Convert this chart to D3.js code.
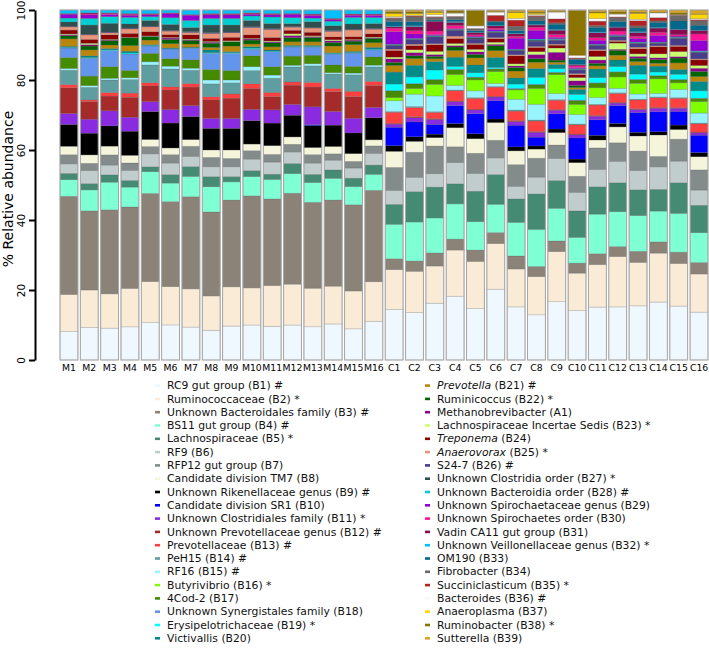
<!DOCTYPE html>
<html><head><meta charset="utf-8">
<script src="https://cdn.jsdelivr.net/npm/d3@7"></script>
<style>
body{margin:0;background:#fff;}
svg{display:block;font-family:"DejaVu Sans",sans-serif;}
</style></head>
<body><svg id="chart" width="709" height="649"></svg>
<script>
// ---------- data ----------
const samples = ["M1","M2","M3","M4","M5","M6","M7","M8","M9","M10","M11","M12","M13","M14","M15","M16",
                 "C1","C2","C3","C4","C5","C6","C7","C8","C9","C10","C11","C12","C13","C14","C15","C16"];

const taxa = [
 "RC9 gut group (B1) #","Ruminococcaceae (B2) *","Unknown Bacteroidales family (B3) #","BS11 gut group (B4) #",
 "Lachnospiraceae (B5) *","RF9 (B6)","RFP12 gut group (B7)","Candidate division TM7 (B8)",
 "Unknown Rikenellaceae genus (B9)  #","Candidate division SR1 (B10)","Unknown Clostridiales family (B11) *",
 "Unknown Prevotellaceae genus (B12) #","Prevotellaceae (B13) #","PeH15 (B14) #","RF16 (B15) #",
 "Butyrivibrio (B16) *","4Cod-2 (B17)","Unknown Synergistales family (B18)","Erysipelotrichaceae (B19) *",
 "Victivallis (B20)",
 "Prevotella (B21) #","Ruminicoccus (B22) *","Methanobrevibacter (A1)","Lachnospiraceae Incertae Sedis (B23) *",
 "Treponema (B24)","Anaerovorax (B25) *","S24-7 (B26) #","Unknown Clostridia order (B27) *",
 "Unknown Bacteroidia order (B28) #","Unknown Spirochaetaceae genus (B29)","Unknown Spirochaetes order (B30)",
 "Vadin CA11 gut group (B31)","Unknown Veillonellaceae genus (B32) *","OM190 (B33)","Fibrobacter (B34)",
 "Succiniclasticum (B35) *","Bacteroides (B36) #","Anaeroplasma (B37)","Ruminobacter (B38) *","Sutterella (B39)"];

const italicNames = ["Prevotella","Treponema","Anaerovorax"];

const taxaColors = [
 "#F0F8FF","#FAEBD7","#8B8378","#7FFFD4","#458B74","#C1CDCD","#838B8B","#F5F5DC","#000000","#0000FF",
 "#8A2BE2","#A52A2A","#FF4040","#5F9EA0","#98F5FF","#7FFF00","#458B00","#6495ED","#00FFFF","#008B8B",
 "#B8860B","#006400","#8B008B","#CAFF70","#8B0000","#E9967A","#483D8B","#2F4F4F","#00CED1","#9400D3",
 "#FF1493","#8B0A50","#00BFFF","#00688B","#696969","#B22222","#F8F8FF","#FFD700","#8B7500","#DAA520"];

const yTicks = [0,20,40,60,80,100];

// % relative abundance, one row per sample (same order as samples), columns in taxa order
const abundance = [
 [8.1,10.5,27.9,4.7,1.8,2.7,2.6,2.4,6.2,0,3.1,7.3,0.9,4.1,0.5,0,3.1,2.7,0.2,0.3,2.1,0.9,0.3,0.2,1.1,0.9,0.2,1.2,1.1,1.1,0.1,0.1,1.0,0,0,0,0,0,0,0],
 [9.3,10.7,22.6,6.0,1.8,3.7,2.1,2.4,6.2,0,4.0,5.0,0.5,3.6,0.5,0,2.7,5.1,0.2,0.5,1.7,1.1,0.4,0.4,1.1,1.3,0.2,2.6,1.9,1.0,0.3,0.3,0.8,0,0,0,0,0,0,0],
 [9.1,9.8,24.0,7.9,2.1,2.8,2.9,2.5,5.8,0,4.3,4.2,1.0,3.6,0.5,0,3.3,4.6,0.2,0.4,1.0,1.2,0.2,0.2,1.3,0.6,0.2,2.5,1.9,0.6,0.3,0.2,0.8,0,0,0,0,0,0,0],
 [9.5,11.0,23.3,5.7,1.9,2.9,2.1,2.2,6.9,0,4.0,5.7,1.2,3.9,0.5,0,2.1,4.7,0.3,0.5,1.6,2.2,0.1,0.1,1.1,1.3,0.2,1.2,1.9,0.6,0.3,0.2,1.0,0,0,0,0,0,0,0],
 [10.7,11.7,25.2,6.2,1.4,3.7,2.1,2.0,8.0,0,2.8,4.5,0.9,5.1,0.9,0,2.4,2.1,0.2,0.2,1.3,1.0,0.1,0.1,1.2,1.4,0.2,1.6,1.1,0.5,0.2,0.2,1.0,0,0,0,0,0,0,0],
 [10.0,10.9,24.2,5.3,2.4,3.3,2.4,1.9,7.1,0,3.8,5.6,0.9,5.1,0.8,0,2.1,2.8,0.1,0.2,1.2,1.2,0.4,0.2,0.8,1.0,0.2,1.7,1.9,1.1,0.2,0.1,0.8,0,0,0,0,0,0,0],
 [9.4,10.9,26.3,5.8,2.8,2.9,2.9,1.9,6.6,0,3.1,5.3,1.0,3.8,0.6,0,2.4,3.3,0.1,0.2,0.9,1.0,0.2,0.2,1.2,0.7,0.2,1.2,2.0,1.5,0.1,0.1,1.3,0,0,0,0,0,0,0],
 [8.5,9.8,24.0,7.2,2.9,2.8,2.7,2.1,6.2,0,2.8,5.3,0.9,3.7,1.1,0,3.0,4.6,0.2,0.8,0.7,1.2,0.3,0.2,0.9,1.4,0.2,2.2,1.9,1.0,0.2,0.2,1.0,0,0,0,0,0,0,0],
 [9.7,11.2,24.8,5.2,1.5,2.8,2.4,2.4,6.2,0,2.8,5.8,1.2,3.2,0.8,0,2.7,4.9,0.2,0.3,1.6,1.2,0.1,0.2,1.0,1.3,0.2,2.0,1.9,1.0,0.2,0.2,1.0,0,0,0,0,0,0,0],
 [10.0,10.6,26.3,5.5,1.7,3.3,2.4,1.9,6.7,0,3.2,6.0,1.3,3.8,1.1,0,3.1,1.9,0.3,0.4,0.8,1.1,0.3,0.2,1.0,2.1,0.2,1.8,1.3,0.5,0.2,0.2,0.8,0,0,0,0,0,0,0],
 [9.7,11.7,24.9,5.6,1.5,3.5,2.2,2.5,6.5,0,3.8,3.8,1.2,4.1,0.9,0,2.4,4.3,0.2,0.3,0.9,1.2,0.3,0.2,1.0,2.3,0.2,1.5,1.9,0.6,0.2,0.2,1.0,0,0,0,0,0,0,0],
 [10.0,11.7,26.0,5.6,2.9,3.3,2.2,2.1,6.2,0,3.1,5.5,0.9,4.3,0.5,0,2.6,2.6,0.2,0.3,1.0,1.2,0.6,0.5,1.0,0.9,0.2,0.8,1.7,1.0,0.1,0.1,1.0,0,0,0,0,0,0,0],
 [9.4,10.9,24.3,5.6,2.3,3.2,2.4,2.0,6.2,0.3,5.0,5.6,1.3,4.7,0.6,0,2.4,2.3,0.2,0.3,1.0,1.2,0.3,0.2,1.0,1.2,0.2,1.6,1.0,0.8,0.2,0.2,1.1,0,0,0,0,0,0,0],
 [10.3,10.8,24.6,6.2,2.4,2.8,1.8,2.1,6.1,0,3.9,5.7,0.9,4.1,0.4,0,2.2,3.1,0.2,0.2,1.9,1.0,0.5,0.3,0.8,1.6,0.2,1.4,1.3,0.4,0.2,0.2,2.4,0,0,0,0,0,0,0],
 [8.9,10.8,24.6,5.2,2.4,2.9,1.9,2.2,5.9,0,4.2,6.2,1.5,4.7,0.5,0,1.9,3.8,0.2,0.3,1.9,1.0,0.3,0.2,0.8,1.9,0.2,1.5,1.9,0.6,0.2,0.2,1.1,0,0,0,0,0,0,0],
 [10.9,11.1,25.7,4.5,2.6,3.3,2.1,1.7,6.2,0,2.9,6.2,1.1,4.1,0.5,0,2.3,2.0,0.2,0.5,1.3,1.2,0.2,0.2,0.9,1.3,0.2,1.4,1.7,0.6,0.2,0.2,1.1,0,0,0,0,0,0,0],
 [14.5,11.4,3.1,9.9,5.7,4.0,6.6,4.6,1.6,5.3,0.9,0.2,3.2,0.2,3.1,0.9,1.9,0.1,1.9,3.4,1.9,0.9,1.0,0.5,1.9,0.4,1.0,0.2,0.2,3.6,1.0,0.4,0.2,1.3,0.9,0.2,0.3,0.9,0.5,0.5],
 [13.5,11.7,2.9,11.1,8.6,4.1,7.1,3.1,1.3,4.2,1.2,0.3,2.6,0.3,3.5,1.6,1.3,0.1,1.9,3.3,1.9,0.8,0.9,0.8,1.2,0.4,1.2,0.2,0.2,1.3,0.9,1.2,0.2,1.2,1.4,0.2,0.2,0.5,0.5,0.5],
 [16.2,10.6,3.7,10.0,8.8,3.8,7.9,2.4,1.0,2.8,1.4,0.2,1.8,0.2,4.5,3.3,1.3,0.1,2.7,2.4,0.8,0.7,0.5,0.9,1.9,0.3,1.9,0.2,0.2,0.3,1.0,2.8,0.1,0.3,0.7,0.2,0.6,0.6,0.2,0.5],
 [18.1,13.1,3.1,10.0,5.7,6.0,4.5,5.4,1.2,5.1,1.1,0.2,2.9,0.2,1.3,3.1,1.4,0.1,0.8,2.6,1.9,1.0,0.4,0.6,1.4,0.7,1.5,0.2,0.2,0.2,0.9,0.9,0.2,0.6,0.8,0.1,0.9,0.1,0.6,0.2],
 [14.5,13.3,3.2,8.0,8.6,5.0,5.7,4.1,1.4,5.7,1.0,0.2,3.1,0.2,1.9,3.1,0.7,0.1,1.2,2.2,2.0,1.0,0.7,0.7,1.4,0.3,1.2,0.3,0.2,0.3,0.4,0.6,0.1,0.5,0.5,0.1,0.7,0.1,4.2,0.2],
 [20.0,12.9,3.1,8.0,8.4,4.7,5.0,5.0,1.0,5.2,1.0,0.2,2.6,0.2,0.8,3.4,0.7,0.1,0.4,2.8,1.9,1.4,0.4,0.6,1.0,0.3,1.4,0.2,0.2,0.5,0.4,0.6,0.2,0.9,0.3,1.6,0.9,0.1,0.1,0.4],
 [14.7,10.5,3.6,9.3,6.5,3.5,6.0,3.8,1.1,6.0,1.0,0.3,2.6,0.3,3.0,2.6,0.2,0.2,1.2,1.7,1.9,1.0,0.4,0.6,2.2,0.3,1.1,0.2,0.2,3.1,0.5,0.7,0.2,0.7,1.2,1.7,0.5,1.6,0.2,0.5],
 [12.9,10.9,2.9,10.6,10.1,4.8,5.4,2.6,0.9,2.5,1.4,0.2,3.0,0.3,4.5,4.5,1.0,0.2,2.0,2.5,1.8,1.0,1.2,0.8,1.2,0.3,1.5,0.3,0.3,2.5,0.9,0.6,0.2,1.0,1.2,0.3,0.3,0.4,0.3,0.6],
 [16.4,14.1,3.0,9.2,7.8,6.2,3.8,3.5,1.0,4.3,1.0,0.2,2.6,0.2,1.7,5.3,0.6,0.1,1.0,1.2,0.6,0.6,2.2,1.2,0.8,0.3,1.1,0.2,0.2,0.4,0.8,1.2,0.2,1.5,0.4,1.1,1.9,0.1,0.1,0.4],
 [13.8,10.5,2.8,7.2,7.4,5.2,4.5,3.8,1.0,5.9,0.9,0.2,2.6,0.2,2.7,2.8,1.1,0.1,1.6,1.4,0.5,0.6,1.3,0.9,0.8,0.3,1.0,0.2,0.2,0.3,0.5,0.3,0.1,1.4,0.2,0.2,0.7,0.1,12.4,0.2],
 [14.7,11.8,3.0,11.0,7.6,4.8,6.0,2.2,1.3,4.3,1.0,0.2,2.9,0.2,1.9,2.7,1.3,0.1,1.4,2.4,0.9,0.7,0.9,1.0,1.6,0.3,1.1,0.2,0.2,1.1,0.7,1.4,0.2,1.3,0.5,1.2,0.7,1.6,0.3,0.5],
 [15.4,14.6,2.9,10.1,8.4,6.2,5.4,4.6,1.0,5.2,0.7,0.2,2.6,0.2,1.3,3.3,1.4,0.1,1.5,1.9,1.4,1.4,0.3,1.8,0.5,0.3,1.0,0.2,0.2,0.3,1.0,1.1,0.1,1.6,1.1,0.2,0.8,0.1,0.6,0.5],
 [14.7,11.8,3.0,9.7,7.0,5.2,5.3,4.1,1.0,5.4,0.8,0.2,2.4,0.2,1.4,2.9,1.0,0.1,1.4,2.4,1.0,0.9,0.5,0.7,1.4,0.4,1.0,0.2,0.2,1.0,0.6,1.0,0.2,1.0,0.6,1.4,0.4,1.6,0.3,0.6],
 [16.0,13.5,3.1,8.5,6.0,6.2,2.9,5.9,0.9,5.5,1.0,0.2,2.7,0.2,1.0,4.0,0.8,0.1,1.0,1.6,0.8,1.0,0.5,1.1,1.9,0.3,0.6,0.2,0.2,1.9,0.8,1.2,0.2,1.4,0.4,0.9,1.3,0.1,0.1,0.6],
 [15.7,12.4,3.3,11.3,8.9,6.3,6.4,2.8,1.3,4.0,0.9,0.2,2.7,0.2,2.4,1.9,0.9,0.1,1.5,1.4,1.9,1.4,0.4,1.5,1.5,0.3,2.0,0.2,0.2,0.3,0.4,1.5,0.1,2.4,1.6,0.1,0.1,0.1,0.5,0.8],
 [13.8,11.0,3.3,8.6,7.9,4.4,5.8,3.8,1.2,5.0,0.7,0.2,2.4,0.2,2.9,3.3,0.9,0.1,2.1,2.7,1.4,1.5,0.9,0.8,1.6,0.3,1.9,0.2,0.2,3.0,1.9,1.0,0.1,1.4,1.3,0.3,0.3,1.3,0.1,1.1]
];

// ---------- chart ----------
const svg = d3.select("#chart");
const table = samples.map((s, i) => {
  const row = {sample: s};
  taxa.forEach((t, j) => row[t] = abundance[i][j]);
  return row;
});

const stack = d3.stack().keys(taxa).offset(d3.stackOffsetExpand);
const layers = stack(table);

const x = d3.scaleBand().domain(samples).range([60, 708]).paddingInner(0.12).paddingOuter(0);
const y = d3.scaleLinear().domain([0, 1]).range([360, 10]);
const color = d3.scaleOrdinal().domain(taxa).range(taxaColors);

const gBars = svg.append("g");
gBars.selectAll("g.layer").data(layers).join("g")
  .attr("class", "layer")
  .attr("fill", d => color(d.key))
  .selectAll("rect").data(d => d).join("rect")
  .attr("x", d => x(d.data.sample))
  .attr("width", x.bandwidth())
  .attr("y", d => y(d[1]))
  .attr("height", d => Math.max(0, y(d[0]) - y(d[1])))
  .attr("stroke", "#555")
  .attr("stroke-opacity", 0.35)
  .attr("stroke-width", 0.6);

// bar outlines
svg.append("g").selectAll("rect").data(samples).join("rect")
  .attr("x", d => x(d)).attr("width", x.bandwidth())
  .attr("y", y(1)).attr("height", y(0) - y(1))
  .attr("fill", "none").attr("stroke", "#a6a6a6").attr("stroke-width", 1);

// y axis
const yAxis = svg.append("g").attr("transform", "translate(35,0)")
  .call(d3.axisLeft(y).tickValues(yTicks.map(v => v / 100)).tickFormat(d => Math.round(d * 100))
        .tickSize(6).tickSizeOuter(0));
yAxis.select(".domain").attr("stroke", "#000").attr("stroke-width", 2);
yAxis.selectAll(".tick line").attr("stroke", "#000").attr("stroke-width", 2);
yAxis.selectAll(".tick text")
  .attr("transform", "rotate(-90)")
  .attr("x", 0).attr("y", -10).attr("dy", 0)
  .attr("text-anchor", "middle")
  .style("font-family", "DejaVu Sans").style("font-size", "10.5px").attr("fill", "#000");

svg.append("text")
  .attr("transform", "translate(13,189) rotate(-90)")
  .attr("text-anchor", "middle")
  .style("font-size", "14px")
  .text("% Relative abundance");

// x labels
svg.append("g").selectAll("text").data(samples).join("text")
  .attr("x", d => x(d) + x.bandwidth() / 2)
  .attr("y", 368).attr("dy", "0.35em")
  .attr("text-anchor", "middle")
  .style("font-size", "9.3px")
  .text(d => d);

// legend
const legend = svg.append("g");
taxa.forEach((t, i) => {
  const col = i < 20 ? 0 : 1;
  const row = i % 20;
  const ly = 385.5 + row * 13.3;
  const mx = col === 0 ? 155 : 425;
  const tx = col === 0 ? 167 : 437;
  legend.append("rect").attr("x", mx).attr("y", ly - 1.2).attr("width", 5).attr("height", 2.6)
    .attr("fill", color(t));
  const txt = legend.append("text").attr("x", tx).attr("y", ly).attr("dy", "0.35em")
    .style("font-size", "10.8px").attr("fill", "#111");
  const it = italicNames.find(n => t.startsWith(n + " "));
  if (it) {
    txt.append("tspan").style("font-style", "italic").text(it);
    txt.append("tspan").text(t.slice(it.length));
  } else {
    txt.text(t);
  }
});
</script>
</body></html>
